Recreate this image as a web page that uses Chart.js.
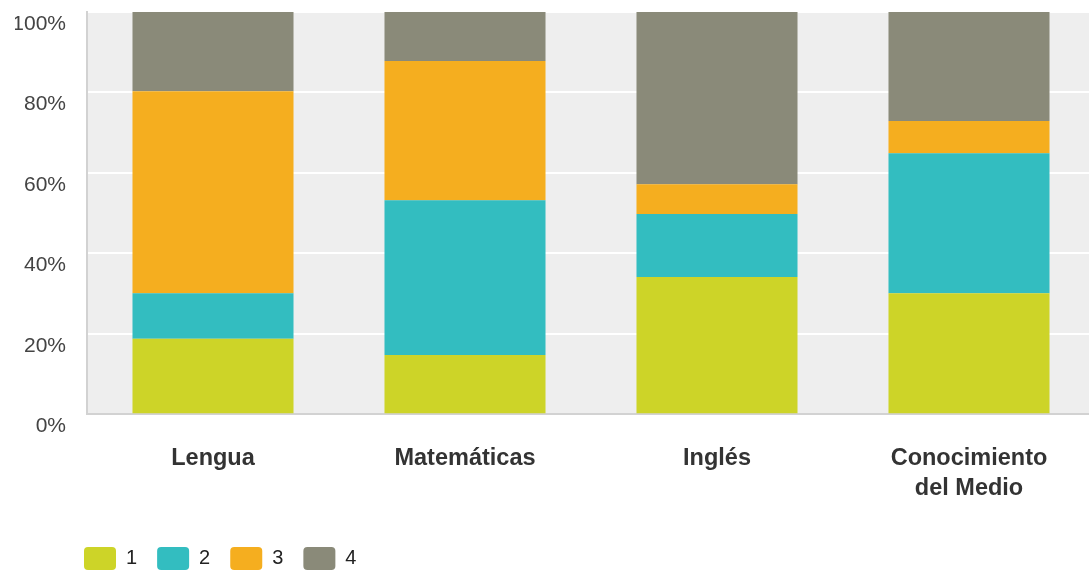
<!DOCTYPE html>
<html>
<head>
<meta charset="utf-8">
<script src="https://cdn.jsdelivr.net/npm/chart.js@4"></script>
<style>
  html, body { margin: 0; padding: 0; background: #fff; }
  #clip { width: 1089px; height: 572px; overflow: hidden; }
  #wrap { width: 1095px; height: 572px; }
</style>
</head>
<body>
<div id="clip"><div id="wrap"><canvas id="chart"></canvas></div></div>
<script>
// data (percent of each subject)
const subjects = ["Lengua", "Matemáticas", "Inglés", ["Conocimiento", "del Medio"]];
const seriesNames = ["1", "2", "3", "4"];
const level1 = [18.8, 14.7, 34.1, 30.1];
const level2 = [11.3, 38.5, 15.7, 34.8];
const level3 = [50.2, 34.6, 7.4, 8.0];
const level4 = [19.7, 12.2, 42.8, 27.1];
const yTicks = [0, 20, 40, 60, 80, 100];

const colors = ["#cdd428", "#33bdc0", "#f5ae1f", "#8a8a79"];
const FONT = "'Liberation Sans', Arial, sans-serif";

// grey plot background
const plotBg = {
  id: "plotBg",
  beforeDraw(chart) {
    const { ctx, chartArea: a } = chart;
    ctx.save();
    ctx.fillStyle = "#eeeeee";
    ctx.fillRect(a.left, a.top, a.right - a.left, a.bottom - a.top);
    ctx.restore();
  },
};

// push the legend so it lines up under the axis
const legendShift = {
  id: "legendShift",
  afterLayout(chart) {
    chart.legend.left = 64;
    chart.legend.top += 8;
  },
};

const noPad = (scale) => {
  scale.paddingTop = 0;
  scale.paddingBottom = 0;
  scale.paddingLeft = 0;
  scale.paddingRight = 0;
};

const series = [level1, level2, level3, level4];

new Chart(document.getElementById("chart"), {
  type: "bar",
  data: {
    labels: subjects,
    datasets: series.map((d, i) => ({
      label: seriesNames[i],
      data: d,
      backgroundColor: colors[i],
      borderWidth: 0,
      categoryPercentage: 1,
      barPercentage: 0.639,
    })),
  },
  options: {
    responsive: true,
    maintainAspectRatio: false,
    animation: false,
    layout: { padding: { left: 15, top: 12, right: 0, bottom: 0 } },
    plugins: {
      tooltip: { enabled: false },
      legend: {
        position: "bottom",
        align: "start",
        labels: {
          font: { family: FONT, size: 20 },
          color: "#222",
          boxWidth: 32,
          boxHeight: 23,
          padding: 20,
          useBorderRadius: true,
          borderRadius: 4,
        },
      },
    },
    scales: {
      x: {
        stacked: true,
        afterFit(scale) {
          noPad(scale);
          scale.height -= 14;
        },
        grid: { display: false, drawTicks: false },
        border: { display: true, color: "#d2d2d2", width: 2 },
        ticks: {
          font: { family: FONT, size: 23.5, weight: "bold", lineHeight: 1.25 },
          color: "#333",
          padding: 30,
          maxRotation: 0,
        },
      },
      y: {
        stacked: true,
        min: 0,
        max: 100,
        afterFit(scale) {
          noPad(scale);
          scale.width = 72;
        },
        afterBuildTicks(scale) {
          scale.ticks = yTicks.map((v) => ({ value: v }));
        },
        grid: { color: "#ffffff", lineWidth: 2, drawTicks: false },
        border: { display: true, color: "#d2d2d2", width: 2 },
        ticks: {
          font: { family: FONT, size: 21 },
          color: "#444",
          padding: 21,
          labelOffset: 12,
          callback: (v) => v + "%",
        },
      },
    },
  },
  plugins: [plotBg, legendShift],
});
</script>
</body>
</html>
